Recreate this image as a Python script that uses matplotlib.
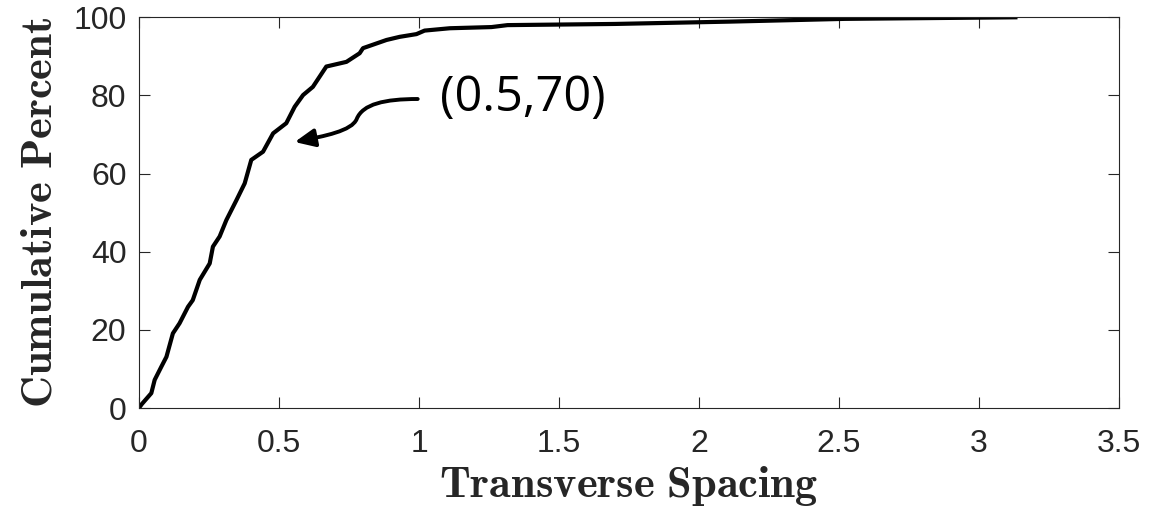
import matplotlib
matplotlib.use('Agg')
import matplotlib.pyplot as plt
from matplotlib.path import Path
from matplotlib.patches import FancyArrowPatch
from matplotlib.ticker import FuncFormatter

# cumulative curve
spacing = [0.0, 0.010, 0.044, 0.056, 0.080, 0.098, 0.121, 0.145, 0.175, 0.192, 0.217,
           0.2525, 0.264, 0.288, 0.312, 0.348, 0.3775, 0.401, 0.443, 0.479, 0.526,
           0.556, 0.586, 0.621, 0.669, 0.741, 0.788, 0.800, 0.884, 0.931, 0.991,
           1.020, 1.11, 1.259, 1.316, 1.70, 2.112, 2.52, 3.13]
percent = [0.0, 1.0, 3.8, 7.2, 10.6, 13.1, 19.1, 21.7, 25.9, 27.6, 32.8,
           37.0, 41.3, 43.9, 48.1, 53.2, 57.5, 63.5, 65.6, 70.3, 72.9,
           77.1, 80.1, 82.2, 87.4, 88.6, 90.8, 92.1, 94.2, 95.0, 95.7,
           96.6, 97.2, 97.5, 98.0, 98.3, 98.9, 99.6, 100.0]

x_ticks = [0, 0.5, 1, 1.5, 2, 2.5, 3, 3.5]
y_ticks = [0, 20, 40, 60, 80, 100]
note = '(0.5,70)'

plt.rcParams['mathtext.fontset'] = 'cm'
plt.rcParams['font.family'] = ['Liberation Sans', 'DejaVu Sans']

fig = plt.figure(figsize=(11.71, 5.09), dpi=100)
ax = fig.add_axes([0.1187, 0.1984, 0.8369, 0.7676])

ax.plot(spacing, percent, color='black', linewidth=3, solid_joinstyle='round')

ax.set_xlim(0, 3.5)
ax.set_ylim(0, 100)
ax.set_xticks(x_ticks)
ax.set_yticks(y_ticks)
ax.xaxis.set_major_formatter(FuncFormatter(lambda v, p: ('%g' % v)))
ax.tick_params(direction='in', length=8, width=0.8, color='#262626',
               labelsize=23, labelcolor='#262626', top=True, right=True)
ax.tick_params(axis='y', pad=9)
ax.tick_params(axis='x', pad=15)
for s in ax.spines.values():
    s.set_color('#262626')
    s.set_linewidth(0.8)

ax.set_xlabel(r'$\mathbf{Transverse\ Spacing}$', fontsize=32, color='#262626', labelpad=4)
ax.set_ylabel(r'$\mathbf{Cumulative\ Percent}$', fontsize=32, color='#262626', labelpad=9)

# annotation with curly arrow
verts = [(0.9954, 79.09), (0.8775, 79.09), (0.799, 77.81), (0.7775, 73.97),
         (0.7596, 70.90), (0.6632, 69.62), (0.556, 68.08)]
codes = [Path.MOVETO] + [Path.CURVE4] * 6
arrow = FancyArrowPatch(path=Path(verts, codes),
                        arrowstyle='-|>,head_length=0.6,head_width=0.27',
                        mutation_scale=20, color='black', linewidth=2.8,
                        transform=ax.transData)
ax.add_patch(arrow)
ax.text(1.075, 79.3, note, fontsize=35, family=['Open Sans', 'DejaVu Sans'],
        ha='left', va='center', color='black')

fig.savefig('out.png', dpi=100)
